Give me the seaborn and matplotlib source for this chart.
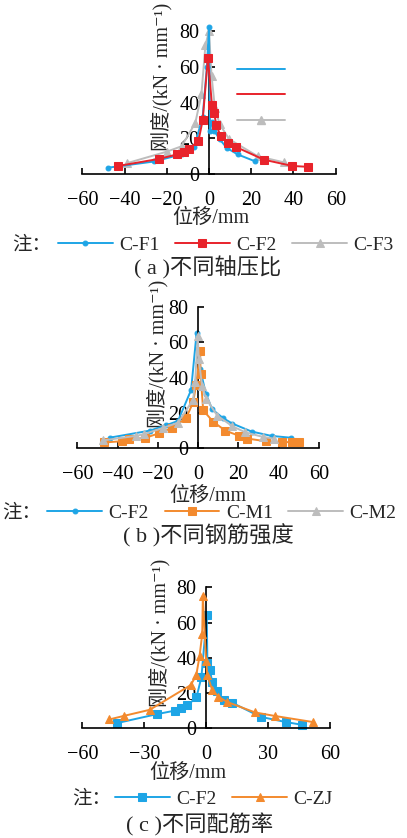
import matplotlib; matplotlib.use("Agg")
import matplotlib.pyplot as plt
from matplotlib.lines import Line2D
import pandas as pd
import seaborn as sns

# ──────────────────────────────────────────────────────────
# Data
# ──────────────────────────────────────────────────────────
# (a) different axial compression ratios
CF1_X = [-48, -26, -13, -7, -3, -1, 0, 0.5, 1.3, 2.6, 5, 8.5, 13.5, 22]
CF1_Y = [3.5, 7, 11, 15, 32, 60, 82, 24, 29, 24, 19.5, 14.5, 11, 7]
CF2_X = [-43, -23.5, -15, -12, -9.5, -5, -3, -0.5, 1.4, 2.4, 3.5, 5.5, 9, 13, 26, 39.5, 47]
CF2_Y = [4.5, 8.5, 11, 12.5, 14, 18.5, 30, 65, 38.5, 34, 27.5, 21, 17.5, 15, 8, 4.5, 4]
CF3_X = [-39, -20, -13, -6.5, -3.6, -1.7, 0, 1.2, 2.8, 5, 9.5, 23, 35.5]
CF3_Y = [6, 12.5, 15.5, 28.5, 44.5, 72, 80, 55, 37, 28, 19.5, 10, 6.5]

# (b) different steel strengths
F2B_X = [-44, -24, -16, -10, -3.5, -0.8, 1, 3.8, 7, 12.5, 17, 26.5, 36.5, 46]
F2B_Y = [6, 10, 13, 15.5, 33, 65, 45, 31, 22, 17, 14, 9.5, 7, 6]
M1_X = [-46.5, -38, -34.5, -26.5, -19.5, -13, -6, -2.5, -1, 1, 1.2, 2.5, 7.5, 13.5, 20.5, 24.5, 33.5, 41.5, 46.5, 50]
M1_Y = [3.3, 4, 5.2, 5.8, 8.5, 11.5, 17, 26, 36, 55, 42, 21.5, 15, 10, 7, 5.5, 4, 3.5, 3.5, 3.7]
M2_X = [-47, -31, -27, -17.5, -10, -2.5, -1.5, -0.2, 0.3, 2, 4, 9.5, 17, 23.5, 32, 37.5]
M2_Y = [4.5, 7, 8, 11.5, 14.5, 27.5, 37.5, 63.5, 50.5, 35, 28, 18.5, 12.5, 9, 6.5, 5.5]

# (c) different reinforcement ratios
F2C_X = [-43, -24, -15.3, -12.4, -9.2, -4.7, -2.3, 0.3, 0.6, 1.8, 2.9, 5.3, 8.5, 12.6, 26.4, 38.8, 46.4]
F2C_Y = [3, 8, 10, 11.5, 13, 17.5, 29, 64, 37, 33, 26.5, 21, 16, 14.5, 6.5, 3.5, 2]
ZJ_X = [-47, -40, -27.3, -7.5, -4.8, -3.2, -1.9, -1.6, 0, 0.6, 3, 5.8, 10, 23.7, 33.3, 52]
ZJ_Y = [5, 7, 10.5, 24.5, 30, 41, 53.5, 75, 38, 30, 21.5, 18, 15, 9, 7, 3.5]

XTICKS_AB = [-60, -40, -20, 0, 20, 40, 60]
XTICKS_C = [-60, -30, 0, 30, 60]
YTICKS = [0, 20, 40, 60, 80]

YLABEL = "刚度/(kN · mm⁻¹)"
XLABEL = "位移/mm"

BLUE = "#1EA5E6"
RED = "#E8232B"
GRAY = "#BDBDBD"
ORANGE = "#F38A2E"

FIG_W, FIG_H = 407, 838
FS = 14.5
LEG_FS = 14


def configure_plot_style():
    sns.set_style("ticks")
    plt.rcParams.update({
        "font.family": ["Liberation Serif", "Noto Sans CJK SC", "DejaVu Serif"],
        "font.size": FS,
        "axes.unicode_minus": True,
        "axes.linewidth": 1.2,
        "axes.edgecolor": "black",
        "xtick.color": "black",
        "ytick.color": "black",
        "xtick.direction": "in",
        "ytick.direction": "in",
        "xtick.major.size": 4,
        "ytick.major.size": 4,
        "xtick.major.width": 1.2,
        "ytick.major.width": 1.2,
    })


def add_axes(fig, left, right, zero_y, top_y):
    # pixel positions of the axis box -> figure fractions
    return fig.add_axes([left / FIG_W, 1 - zero_y / FIG_H,
                         (right - left) / FIG_W, (zero_y - top_y) / FIG_H])


def draw_series(ax, xs, ys, color, marker, ms, z):
    df = pd.DataFrame({"x": xs, "y": ys})
    sns.lineplot(data=df, x="x", y="y", sort=False, estimator=None, ax=ax,
                 color=color, marker=marker, markersize=ms, markeredgecolor=color,
                 markerfacecolor=color, linewidth=1.4, clip_on=False, zorder=z,
                 legend=False)
    return ax.lines[-1]


def style_axes(ax, xticks, ylab_xy, xlab_xy):
    ax.set_xlim(-60, 60)
    ax.set_ylim(0, 80)
    ax.set_xticks(xticks)
    ax.set_yticks(YTICKS)
    ax.spines["left"].set_position(("data", 0))
    ax.spines[["top", "right"]].set_visible(False)
    ax.tick_params(axis="x", pad=12, labelsize=FS)
    ax.tick_params(axis="y", pad=7, labelsize=FS)
    ax.set_ylabel(YLABEL, fontsize=FS)
    ax.yaxis.set_label_coords(*ylab_xy)
    ax.yaxis.label.set_va("center")
    ax.set_xlabel(XLABEL, fontsize=FS)
    ax.xaxis.set_label_coords(*xlab_xy)
    ax.xaxis.label.set_va("center")
    ax.set_facecolor("none")


def bottom_legend(fig, handles, labels, cx, cy, note_x):
    fig.legend(handles, labels, loc="center", ncol=len(labels),
               bbox_to_anchor=(cx / FIG_W, 1 - cy / FIG_H),
               frameon=False, handlelength=2.8, handletextpad=0.35,
               columnspacing=0.8, borderpad=0, fontsize=LEG_FS)
    fig.text(note_x / FIG_W, 1 - cy / FIG_H, "注：", ha="left", va="center",
             fontsize=LEG_FS)


def main():
    configure_plot_style()
    fig = plt.figure(figsize=(FIG_W / 100, FIG_H / 100), dpi=100)

    # ---- (a)
    ax = add_axes(fig, 82.3, 335.7, 174, 31)
    h3 = draw_series(ax, CF3_X, CF3_Y, GRAY, "^", 5.5, 2)
    h1 = draw_series(ax, CF1_X, CF1_Y, BLUE, "o", 3.5, 3)
    h2 = draw_series(ax, CF2_X, CF2_Y, RED, "s", 5.5, 4)
    style_axes(ax, XTICKS_AB, (0.315, 0.68), (0.508, -0.308))
    # leftover legend keys inside the plot (no text)
    stray = [Line2D([], [], color=BLUE, lw=1.4),
             Line2D([], [], color=RED, lw=1.4),
             Line2D([], [], color=GRAY, lw=1.4, marker="^", markersize=5.5)]
    ax.legend(stray, ["", "", ""], loc="center",
              bbox_to_anchor=(261 / FIG_W, 1 - 97 / FIG_H),
              bbox_transform=fig.transFigure, frameon=False,
              handlelength=2.4, handletextpad=0, labelspacing=0.3,
              borderpad=0)
    bottom_legend(fig, [h1, h2, h3], ["C-F1", "C-F2", "C-F3"], 226, 245, 12)
    fig.text(208 / FIG_W, 1 - 268 / FIG_H, "( a )不同轴压比", ha="center",
             va="center", fontsize=16)

    # ---- (b)
    ax = add_axes(fig, 77.3, 319, 448.3, 307)
    h1 = draw_series(ax, F2B_X, F2B_Y, BLUE, "o", 3.5, 2)
    h2 = draw_series(ax, M1_X, M1_Y, ORANGE, "s", 5.5, 3)
    h3 = draw_series(ax, M2_X, M2_Y, GRAY, "^", 5.5, 4)
    style_axes(ax, XTICKS_AB, (0.334, 0.665), (0.541, -0.338))
    bottom_legend(fig, [h1, h2, h3], ["C-F2", "C-M1", "C-M2"], 222, 513, 2)
    fig.text(208 / FIG_W, 1 - 536 / FIG_H, "( b )不同钢筋强度", ha="center",
             va="center", fontsize=16)

    # ---- (c)
    ax = add_axes(fig, 82.3, 330, 728.3, 587.3)
    h1 = draw_series(ax, F2C_X, F2C_Y, BLUE, "s", 5.5, 2)
    h2 = draw_series(ax, ZJ_X, ZJ_Y, ORANGE, "^", 5.5, 3)
    style_axes(ax, XTICKS_C, (0.314, 0.68), (0.425, -0.317))
    bottom_legend(fig, [h1, h2], ["C-F2", "C-ZJ"], 224, 799, 72)
    fig.text(200 / FIG_W, 1 - 825 / FIG_H, "( c )不同配筋率", ha="center",
             va="center", fontsize=16)

    fig.savefig("out.png", dpi=100)
    plt.close(fig)


if __name__ == "__main__":
    main()
